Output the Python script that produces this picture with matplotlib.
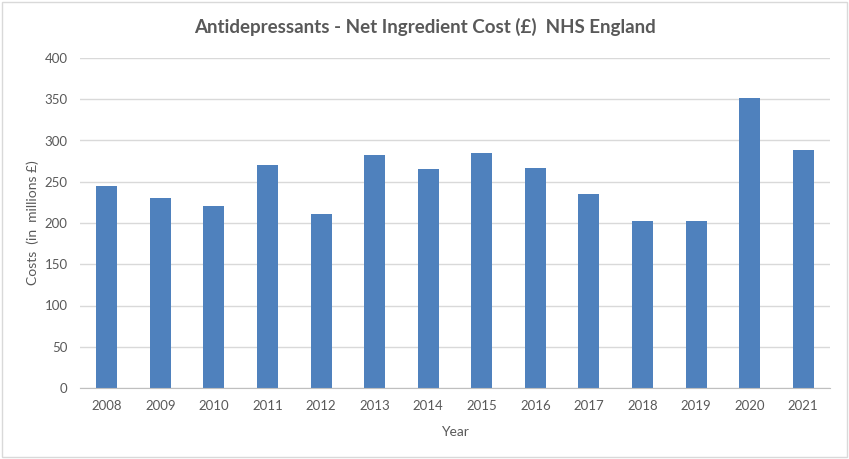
import matplotlib
matplotlib.use("Agg")
import matplotlib.pyplot as plt
from matplotlib.patches import Rectangle

years = ["2008", "2009", "2010", "2011", "2012", "2013", "2014",
         "2015", "2016", "2017", "2018", "2019", "2020", "2021"]
costs = [245, 230, 220, 270, 211, 282, 265, 285, 267, 235, 202, 202, 352, 288]
yticks = [0, 50, 100, 150, 200, 250, 300, 350, 400]

plt.rcParams['font.family'] = ['Lato', 'DejaVu Sans']
grey = '#595959'

fig = plt.figure(figsize=(8.49, 4.59), dpi=100)
ax = fig.add_axes([80/849, 1-388/459, 750/849, 330/459])

x = list(range(len(years)))
ax.bar(x, costs, width=0.39, color='#4F81BD', zorder=3)
ax.set_xlim(-0.5, len(years)-0.5)
ax.set_ylim(0, 400)
ax.set_yticks(yticks)
ax.set_xticks(x)
ax.set_xticklabels(years)
ax.yaxis.grid(True, color='#D9D9D9', linewidth=1, zorder=0)
ax.tick_params(axis='both', length=0, labelsize=9.5, colors=grey, pad=9)
for s in ['top', 'right', 'left']:
    ax.spines[s].set_visible(False)
ax.spines['bottom'].set_color('#BFBFBF')
ax.spines['bottom'].set_zorder(4)

ax.set_xlabel("Year", fontsize=10, color=grey, labelpad=10)
ax.set_ylabel("Costs  (in  millions £)", fontsize=10, color=grey, labelpad=4)
fig.text(0.5, 1-27/459, "Antidepressants - Net Ingredient Cost (£)  NHS England",
         ha='center', va='center', fontsize=13.5, fontweight='bold', color=grey)

fig.patches.append(Rectangle((2/849, 2/459), 1-4/849, 1-4/459, transform=fig.transFigure,
                             fill=False, edgecolor='#D9D9D9', linewidth=1))

fig.savefig("out.png", dpi=100)
